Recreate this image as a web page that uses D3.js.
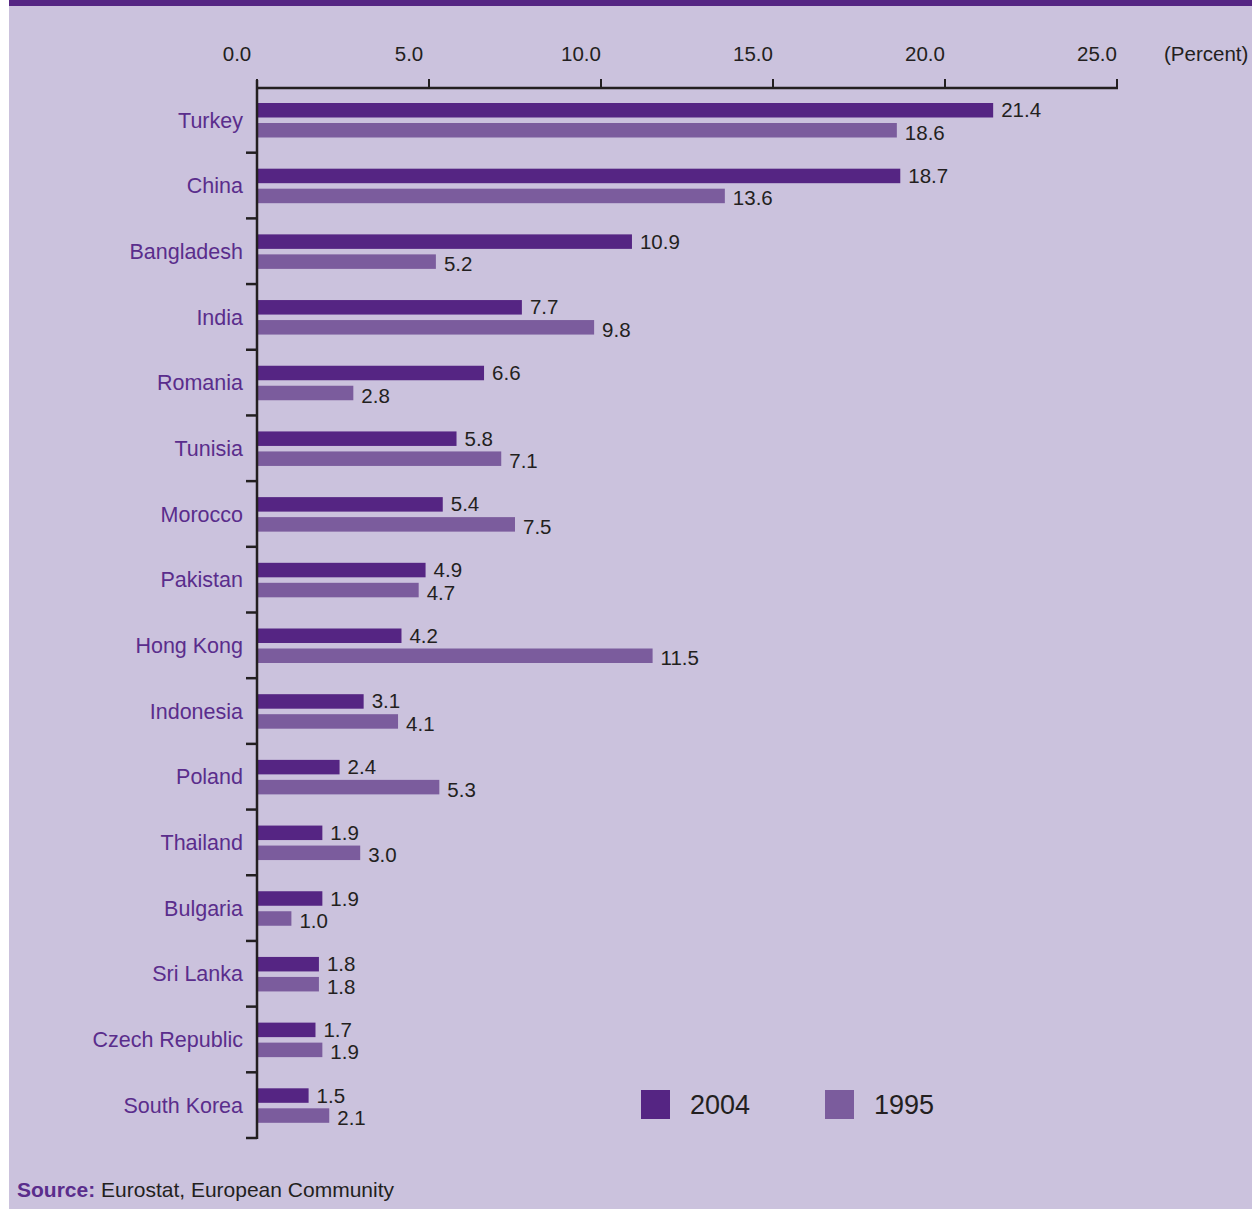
<!DOCTYPE html>
<html>
<head>
<meta charset="utf-8">
<script src="https://cdn.jsdelivr.net/npm/d3@7"></script>
<style>
  html, body { margin: 0; padding: 0; background: #ffffff; }
  svg { display: block; font-family: "Liberation Sans", Arial, sans-serif; }
</style>
</head>
<body>
<script>
// Supplier countries, top to bottom
const countries = ["Turkey", "China", "Bangladesh", "India", "Romania", "Tunisia", "Morocco",
  "Pakistan", "Hong Kong", "Indonesia", "Poland", "Thailand", "Bulgaria", "Sri Lanka",
  "Czech Republic", "South Korea"];
// Share of imports (percent)
const values2004 = [21.4, 18.7, 10.9, 7.7, 6.6, 5.8, 5.4, 4.9, 4.2, 3.1, 2.4, 1.9, 1.9, 1.8, 1.7, 1.5];
const values1995 = [18.6, 13.6, 5.2, 9.8, 2.8, 7.1, 7.5, 4.7, 11.5, 4.1, 5.3, 3.0, 1.0, 1.8, 1.9, 2.1];
const seriesNames = ["2004", "1995"];
const tickValues = [0, 5, 10, 15, 20, 25];

const W = 1252, H = 1209;
const colors = { "2004": "#552583", "1995": "#7b5c9d" };
const bg = "#cbc2dd";
const ink = "#231f20";

const svg = d3.select("body").append("svg").attr("width", W).attr("height", H);

// panel background and top band
svg.append("rect").attr("x", 9).attr("y", 0).attr("width", W - 9).attr("height", H).attr("fill", bg);
svg.append("rect").attr("x", 9).attr("y", 0).attr("width", W - 9).attr("height", 6).attr("fill", "#552583");

const x = d3.scaleLinear().domain([0, 25]).range([257, 1117]);
const y = d3.scaleBand().domain(countries).range([87, 1138]).paddingInner(0).paddingOuter(0);

const rows = countries.map((c, i) => ({ country: c, v2004: values2004[i], v1995: values1995[i] }));
const barH = 14.5;
const off2004 = 16, off1995 = 36;

// top axis
const axisG = svg.append("g");
axisG.append("line").attr("x1", x(0)).attr("x2", x(25) + 1).attr("y1", 88).attr("y2", 88)
  .attr("stroke", ink).attr("stroke-width", 2.5);
axisG.selectAll("line.tick").data(tickValues).join("line").attr("class", "tick")
  .attr("x1", d => x(d)).attr("x2", d => x(d)).attr("y1", 79).attr("y2", 88)
  .attr("stroke", ink).attr("stroke-width", 2);
axisG.selectAll("text.tl").data(tickValues).join("text").attr("class", "tl")
  .attr("x", d => x(d) - 20).attr("y", 61)
  .attr("text-anchor", "middle").attr("font-size", 20.5).attr("fill", ink)
  .text(d => d3.format(".1f")(d));
svg.append("text").attr("x", 1164).attr("y", 61).attr("font-size", 20.5).attr("fill", ink)
  .text("(Percent)");

// bars
const g = svg.append("g");
g.selectAll("rect.b04").data(rows).join("rect").attr("class", "b04")
  .attr("x", x(0)).attr("y", d => y(d.country) + off2004)
  .attr("width", d => x(d.v2004) - x(0)).attr("height", barH).attr("fill", colors["2004"]);
g.selectAll("rect.b95").data(rows).join("rect").attr("class", "b95")
  .attr("x", x(0)).attr("y", d => y(d.country) + off1995)
  .attr("width", d => x(d.v1995) - x(0)).attr("height", barH).attr("fill", colors["1995"]);

// value labels
g.selectAll("text.l04").data(rows).join("text").attr("class", "l04")
  .attr("x", d => x(d.v2004) + 8).attr("y", d => y(d.country) + off2004 + barH / 2 + 7)
  .attr("font-size", 20.5).attr("fill", ink).text(d => d.v2004.toFixed(1));
g.selectAll("text.l95").data(rows).join("text").attr("class", "l95")
  .attr("x", d => x(d.v1995) + 8).attr("y", d => y(d.country) + off1995 + barH / 2 + 9.5)
  .attr("font-size", 20.5).attr("fill", ink).text(d => d.v1995.toFixed(1));

// vertical category axis
svg.append("line").attr("x1", x(0)).attr("x2", x(0)).attr("y1", 80).attr("y2", 1139)
  .attr("stroke", ink).attr("stroke-width", 2.5);
const bounds = countries.map(c => y(c)).concat([y.range()[1]]).slice(1);
svg.selectAll("line.ct").data(bounds).join("line").attr("class", "ct")
  .attr("x1", x(0) - 11).attr("x2", x(0)).attr("y1", d => d).attr("y2", d => d)
  .attr("stroke", ink).attr("stroke-width", 2.5);
svg.selectAll("text.cat").data(countries).join("text").attr("class", "cat")
  .attr("x", 243).attr("y", d => y(d) + 33 + 7.5)
  .attr("text-anchor", "end").attr("font-size", 21.5).attr("fill", "#5a2d8c").text(d => d);

// legend
const leg = svg.append("g");
const legX = [641, 825];
seriesNames.forEach((s, i) => {
  leg.append("rect").attr("x", legX[i]).attr("y", 1090).attr("width", 29).attr("height", 29).attr("fill", colors[s]);
  leg.append("text").attr("x", legX[i] + 49).attr("y", 1114).attr("font-size", 27).attr("fill", ink).text(s);
});

// source note
const src = svg.append("text").attr("x", 17).attr("y", 1197).attr("font-size", 21).attr("fill", ink);
src.append("tspan").attr("font-weight", "bold").attr("fill", "#5a2d8c").text("Source:");
src.append("tspan").text(" Eurostat, European Community");
</script>
</body>
</html>
